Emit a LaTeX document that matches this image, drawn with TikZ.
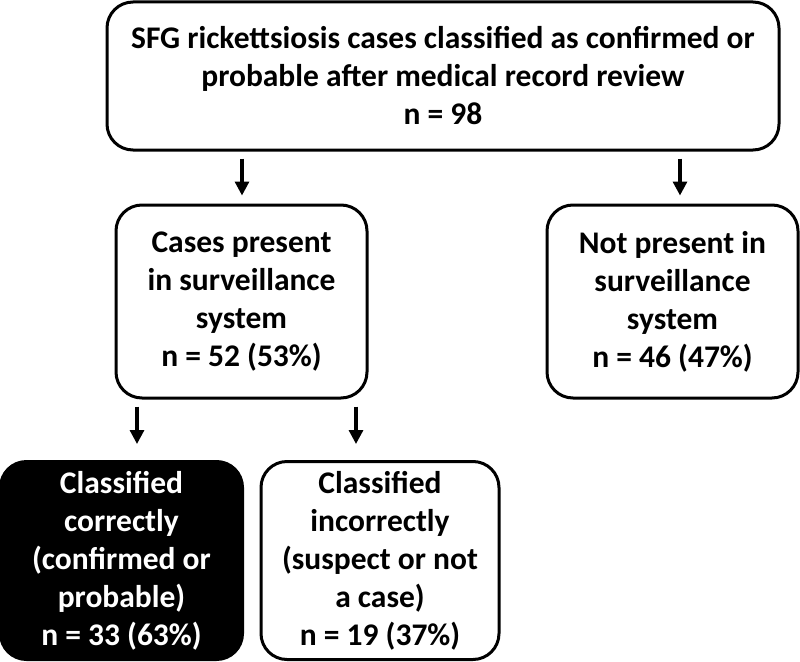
\documentclass[tikz,border=0pt]{standalone}
\usepackage{fontspec}
\setmainfont{Carlito}
\usepackage{tikz}
\usetikzlibrary{shapes, arrows.meta}
\usetikzlibrary{positioning}
\tikzstyle{box} = [rectangle, rounded corners = 26, line width = 3,
  draw = black, align = center, inner sep = 0,
  font = \fontsize{31.5}{38}\selectfont\bfseries]
\tikzstyle{dark} = [
  box, fill = black, text = white
]

\begin{document}
\begin{tikzpicture}[node distance = 0, >={Triangle[length = 14, width = 14]}]
      \useasboundingbox (0, 0) rectangle (800pt, -661pt);
      % top
      \node [box, minimum width = 672, minimum height = 148] (all) at (443pt, -76pt)
        {SFG rickettsiosis cases classified as confirmed or\\
         probable after medical record review\\ n = 98};
      % level 1
      \node [box, below of = all, xshift = -201.5, yshift = -225.5,
        minimum width = 251, minimum height = 193] (cases)
        {Cases present\\ in surveillance\\ system\\ n = 52 (53\%)};
      \node [box, below of = all, xshift = 229.5, yshift = -225.5,
        minimum width = 251, minimum height = 193] (absent)
        {Not present in\\ surveillance\\ system\\ n = 46 (47\%)};
      % level 2
      \node [dark, below of = cases, xshift = -120, yshift = -259,
        minimum width = 242, minimum height = 198] (correct)
        {Classified\\ correctly\\ (confirmed or\\ probable)\\ n = 33 (63\%)};
      \node [box, below of = cases, xshift = 138.5, yshift = -259,
        minimum width = 238, minimum height = 198] (incorrect)
        {Classified\\ incorrectly\\ (suspect or not\\ a case)\\ n = 19 (37\%)};

      \draw [->, line width = 3.2] ([xshift = -201, yshift = -7] all.south)
        -- ([xshift = 0.5, yshift = 8] cases.north);
      \draw [->, line width = 3.2] ([xshift = 237, yshift = -7] all.south)
        -- ([xshift = 7.5, yshift = 8] absent.north);
      \draw [->, line width = 3.2] ([xshift = -104.5, yshift = -7] cases.south)
        -- ([xshift = 15.5, yshift = 16] correct.north);
      \draw [->, line width = 3.2] ([xshift = 114.5, yshift = -7] cases.south)
        -- ([xshift = -24, yshift = 16] incorrect.north);
    \end{tikzpicture}
\end{document}
